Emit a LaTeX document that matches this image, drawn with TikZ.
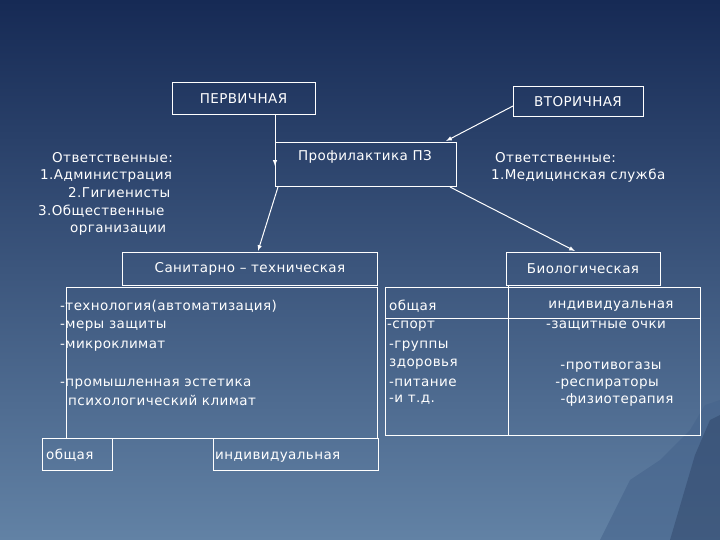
\documentclass[tikz,border=0pt]{standalone}
\usepackage{fontspec}
\setmainfont{DejaVu Sans}[LetterSpace=3]
\definecolor{bgtop}{RGB}{22,42,85}
\definecolor{bgbot}{RGB}{98,130,165}
\definecolor{mtA}{RGB}{70,100,140}
\definecolor{mtB}{RGB}{40,60,95}
\begin{document}
\begin{tikzpicture}[x=1pt,y=-1pt,
  line/.style={draw=white,line width=0.8pt},
  arr/.style={draw=white,line width=1pt,-latex},
  txt/.style={text=white,font=\fontsize{13.5}{16}\selectfont,inner sep=0pt},
  lbl/.style={txt,anchor=west}]
\useasboundingbox (0,0) rectangle (720,540);
\shade[top color=bgtop,bottom color=bgbot] (0,0) rectangle (720,540);
\fill[mtA,opacity=0.6] (600,540) -- (630,480) -- (660,460) -- (690,430) -- (705,405) -- (720,400) -- (720,540) -- cycle;
\fill[mtB,opacity=0.4] (670,540) -- (695,455) -- (710,420) -- (720,415) -- (720,540) -- cycle;
% boxes
\draw[line] (172,82) rectangle (315,114);
\node[txt] (perv) at (243.5,99) {ПЕРВИЧНАЯ};
\draw[line] (513,86) rectangle (643,116);
\node[txt] (vtor) at (578,102) {ВТОРИЧНАЯ};
\draw[line] (275,142) rectangle (456,186);
\node[txt] (prof) at (365,157) {Профилактика ПЗ};
\draw[line] (122,252) rectangle (377,285);
\node[txt] (san) at (250,269) {Санитарно – техническая};
\draw[line] (506,252) rectangle (660,285);
\node[txt] (bio) at (583,269) {Биологическая};
% left table
\draw[line] (66,438) -- (66,287) -- (377,287) -- (377,438);
\draw[line] (42,438) -- (378,438);
\draw[line] (42,438) rectangle (112,470);
\draw[line] (213,438) rectangle (378,470);
\node[lbl] (lo) at (46,455) {общая};
\node[lbl] (li) at (215,457) {индивидуальная};
\node[lbl] (t1) at (60,306) {-технология(автоматизация)};
\node[lbl] (t2) at (60,326) {-меры защиты};
\node[lbl] (t3) at (60,346) {-микроклимат};
\node[lbl] (t4) at (60,384) {-промышленная эстетика};
\node[lbl] (t5) at (68,400) {психологический климат};
% right table
\draw[line] (385,287) rectangle (700,435);
\draw[line] (508,285) -- (508,435);
\draw[line] (385,318) -- (700,318);
\node[lbl] (r1) at (389,306) {общая};
\node[lbl] (r2) at (387,326) {-спорт};
\node[lbl] (r3) at (389,346) {-группы};
\node[lbl] (r4) at (389,364) {здоровья};
\node[lbl] (r5) at (389,383) {-питание};
\node[lbl] (r6) at (389,400) {-и т.д.};
\node[txt] (s1) at (611,306) {индивидуальная};
\node[txt] (s2) at (606,326) {-защитные очки};
\node[txt] (s3) at (611,367) {-противогазы};
\node[txt] (s4) at (607,384) {-респираторы};
\node[txt] (s5) at (617,400) {-физиотерапия};
% responsible texts
\node[lbl] (o1) at (52,158) {Ответственные:};
\node[lbl] (o2) at (40,176) {1.Администрация};
\node[lbl] (o3) at (68,193) {2.Гигиенисты};
\node[lbl] (o4) at (38,211) {3.Общественные};
\node[lbl] (o5) at (70,230) {организации};
\node[lbl] (p1) at (495,158) {Ответственные:};
\node[lbl] (p2) at (491,176) {1.Медицинская служба};
% arrows
\coordinate (a1) at (275,114); \coordinate (a2) at (275,166);
\coordinate (b1) at (513,106); \coordinate (b2) at (446,141);
\coordinate (c1) at (278,187); \coordinate (c2) at (258,251);
\coordinate (d1) at (450,187); \coordinate (d2) at (575,251);
\draw[arr] (a1) -- (a2);
\draw[arr] (b1) -- (b2);
\draw[arr] (c1) -- (c2);
\draw[arr] (d1) -- (d2);
\end{tikzpicture}
\end{document}
